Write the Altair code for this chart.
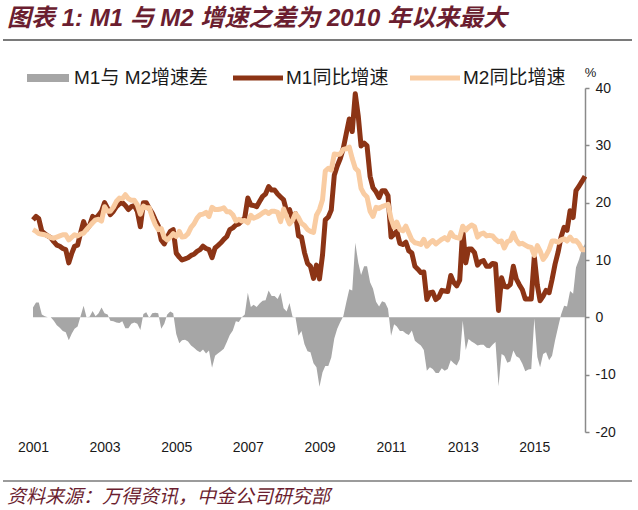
import altair as alt
import pandas as pd

# ---------------- data (monthly, Jan 2001 - Jun 2016, % YoY) ----------------
start_month = "2001-01-01"
m1_yoy = [
    17.0, 17.6, 17.2, 15.0, 14.6, 14.2, 13.9, 13.2, 12.6, 12.4, 12.0, 11.8,  # 2001
    9.5, 11.2, 12.4, 12.6, 14.7, 16.7, 15.3, 16.0, 17.6, 17.2, 17.8, 18.5,   # 2002
    20.0, 19.0, 17.9, 18.5, 19.3, 19.8, 20.0, 19.5, 18.8, 19.3, 19.5, 18.5,  # 2003
    15.8, 20.0, 20.0, 19.0, 18.2, 17.0, 16.0, 13.5, 12.8, 14.0, 15.0, 15.3,  # 2004
    11.2, 10.5, 10.0, 10.2, 10.4, 10.8, 11.0, 11.5, 11.8, 12.4, 12.0, 11.8,  # 2005
    10.4, 12.1, 12.5, 13.0, 13.6, 14.1, 15.3, 15.6, 16.1, 16.3, 16.8, 17.4,  # 2006
    20.8, 19.6, 19.5, 19.3, 20.2, 21.1, 21.5, 22.8, 22.2, 22.2, 21.5, 21.0,  # 2007
    20.5, 18.5, 18.8, 17.0, 18.1, 14.2, 14.0, 11.3, 9.4, 8.9, 6.8, 9.1,      # 2008
    6.7, 10.9, 17.0, 17.5, 18.7, 24.8, 26.4, 27.7, 29.5, 32.0, 34.6, 32.4,   # 2009
    39.0, 35.0, 29.9, 30.4, 29.9, 24.6, 22.6, 21.9, 20.9, 22.1, 22.1, 21.2,  # 2010
    14.0, 14.5, 15.0, 12.9, 12.7, 13.1, 11.6, 11.2, 8.9, 8.4, 7.8, 7.9,      # 2011
    3.1, 4.3, 4.4, 3.1, 3.5, 4.7, 4.6, 4.5, 7.3, 6.1, 5.5, 6.5,              # 2012
    15.3, 9.5, 11.9, 11.9, 11.3, 9.1, 9.7, 9.9, 8.9, 8.9, 9.4, 9.3,          # 2013
    1.2, 6.9, 5.4, 5.3, 5.7, 8.9, 6.7, 5.7, 4.8, 3.2, 3.2, 3.2,              # 2014
    10.6, 5.6, 2.9, 3.7, 4.7, 4.3, 6.6, 9.3, 11.4, 14.0, 15.7, 15.2,         # 2015
    18.6, 17.4, 22.1, 22.9, 23.7, 24.6,                                      # 2016
]
m2_yoy = [
    15.3, 15.0, 14.6, 14.5, 14.4, 14.2, 13.9, 13.8, 14.0, 14.2, 14.4, 14.4,  # 2001
    13.5, 14.0, 14.4, 14.2, 14.5, 14.7, 15.3, 15.9, 16.5, 17.0, 17.1, 16.8,  # 2002
    19.3, 18.5, 18.5, 19.2, 20.2, 20.8, 20.7, 21.4, 20.7, 20.4, 20.4, 19.6,  # 2003
    18.0, 19.4, 19.1, 19.1, 17.5, 16.2, 15.3, 15.5, 13.9, 13.5, 14.0, 14.6,  # 2004
    14.1, 15.0, 14.0, 14.1, 14.6, 15.7, 16.3, 17.3, 17.9, 18.0, 18.3, 17.6,  # 2005
    19.2, 18.8, 18.8, 18.9, 19.1, 18.4, 18.4, 17.9, 16.8, 17.1, 16.8, 16.9,  # 2006
    16.5, 17.8, 17.3, 17.5, 17.8, 18.2, 18.5, 18.1, 18.5, 18.5, 18.3, 16.7,  # 2007
    18.9, 17.5, 16.3, 16.9, 18.1, 17.4, 16.4, 16.0, 15.3, 15.0, 14.8, 17.8,  # 2008
    18.8, 20.5, 25.5, 26.0, 25.7, 28.5, 28.4, 28.5, 29.3, 29.4, 29.7, 27.7,  # 2009
    26.0, 25.5, 22.5, 21.5, 21.0, 18.5, 17.6, 19.2, 19.0, 19.3, 19.5, 19.7,  # 2010
    17.2, 15.7, 16.6, 15.3, 15.1, 15.9, 14.7, 13.5, 13.0, 12.9, 12.7, 13.6,  # 2011
    12.4, 13.0, 13.4, 12.8, 13.2, 13.6, 13.9, 13.5, 14.8, 14.1, 13.9, 13.8,  # 2012
    15.9, 15.2, 15.7, 16.1, 15.8, 14.0, 14.5, 14.7, 14.2, 14.3, 14.2, 13.6,  # 2013
    13.2, 13.3, 12.1, 13.2, 13.4, 14.7, 13.5, 12.8, 12.9, 12.6, 12.3, 12.2,  # 2014
    10.8, 12.5, 11.6, 10.1, 10.8, 11.8, 13.3, 13.3, 13.1, 13.5, 13.7, 13.3,  # 2015
    14.0, 13.3, 13.4, 12.8, 11.8, 11.8,                                      # 2016
]
axis_years = [2001, 2003, 2005, 2007, 2009, 2011, 2013, 2015]
y_ticks = [-20, -10, 0, 10, 20, 30, 40]

title_text = "图表 1: M1 与 M2 增速之差为 2010 年以来最大"
source_text = "资料来源：万得资讯，中金公司研究部"
gap_name = "M1与 M2增速差"
m1_name = "M1同比增速"
m2_name = "M2同比增速"

# ---------------- build table ----------------
months = pd.date_range(start_month, periods=len(m1_yoy), freq="MS")
df = pd.DataFrame({"date": months.strftime("%Y-%m-%d"), "m1": m1_yoy, "m2": m2_yoy})
df["gap"] = df["m1"] - df["m2"]

# ---------------- styling ----------------
W, H = 552, 344
C_M1 = "#8C3415"
C_M2 = "#F9CCA2"
C_GAP = "#A6A6A6"
C_TITLE = "#6B1E30"
FONT = "Liberation Sans, Noto Sans CJK SC, sans-serif"

x_enc = alt.X(
    "date:T",
    scale=alt.Scale(domain=[alt.DateTime(year=2001, month=1, date=1),
                            alt.DateTime(year=2016, month=6, date=1)]),
    axis=alt.Axis(
        values=[alt.DateTime(year=y, month=1, date=1) for y in axis_years],
        format="%Y", title=None, domain=False, ticks=False, tickSize=0,
        grid=False, labelPadding=8, labelFontSize=14, labelColor="#1a1a1a",
        labelFont=FONT, labelFlush=False,
    ),
)

y_axis = alt.Axis(
    orient="right", values=y_ticks, grid=False, title="%",
    labelExpr="'' + datum.value",
    titleAngle=0, titleX=5, titleY=-16, titleAlign="center",
    titleBaseline="middle", titleFontSize=13, titleFontWeight="normal",
    titleColor="#1a1a1a", titleFont=FONT,
    domainColor="#8a8a8a", domainWidth=1.5, tickColor="#8a8a8a",
    tickSize=4, tickWidth=1.5, labelPadding=6, labelFontSize=14,
    labelColor="#1a1a1a", labelFont=FONT,
)
y_scale = alt.Scale(domain=[-20, 40], nice=False, zero=False)

base = alt.Chart(df)

area = base.mark_area(color=C_GAP, opacity=1).encode(
    x=x_enc,
    y=alt.Y("gap:Q", scale=y_scale, axis=y_axis),
)
zero_line = base.mark_rule(color="#8a8a8a", strokeWidth=1.5).encode(
    y=alt.Y("zero:Q", scale=y_scale, axis=y_axis),
).transform_calculate(zero="0").transform_filter("datum.date == '2001-01-01'")

m1_line = base.mark_line(color=C_M1, strokeWidth=5, strokeJoin="round").encode(
    x=x_enc,
    y=alt.Y("m1:Q", scale=y_scale, axis=y_axis),
)
m2_line = base.mark_line(color=C_M2, strokeWidth=5, strokeJoin="round").encode(
    x=x_enc,
    y=alt.Y("m2:Q", scale=y_scale, axis=y_axis),
)

# ---------------- legend, title, source (decorations) ----------------
one = pd.DataFrame({"gap": [gap_name], "m1": [m1_name], "m2": [m2_name],
                    "title": [title_text], "source": [source_text]})
deco = alt.Chart(one)
OX, OY = 33, 88  # plot origin in page pixels
LY = 78  # legend centre line
LFS = 19

leg_gap_sym = deco.mark_rect(color=C_GAP).encode(
    x=alt.value(27 - OX), x2=alt.value(69 - OX),
    y=alt.value(LY - 4 - OY), y2=alt.value(LY + 4 - OY))
leg_gap_txt = deco.mark_text(align="left", baseline="middle", fontSize=LFS,
                             font=FONT, color="#1a1a1a").encode(
    x=alt.value(74 - OX), y=alt.value(LY - OY), text="gap:N")
leg_m1_sym = deco.mark_rule(color=C_M1, strokeWidth=5).encode(
    x=alt.value(233 - OX), x2=alt.value(283 - OX), y=alt.value(LY - OY))
leg_m1_txt = deco.mark_text(align="left", baseline="middle", fontSize=LFS,
                            font=FONT, color="#1a1a1a").encode(
    x=alt.value(286 - OX), y=alt.value(LY - OY), text="m1:N")
leg_m2_sym = deco.mark_rule(color=C_M2, strokeWidth=5).encode(
    x=alt.value(410 - OX), x2=alt.value(460 - OX), y=alt.value(LY - OY))
leg_m2_txt = deco.mark_text(align="left", baseline="middle", fontSize=LFS,
                            font=FONT, color="#1a1a1a").encode(
    x=alt.value(463 - OX), y=alt.value(LY - OY), text="m2:N")

title_mark = deco.mark_text(align="left", baseline="middle", fontSize=24,
                            font=FONT, fontStyle="italic", fontWeight="bold",
                            color=C_TITLE).encode(
    x=alt.value(7 - OX), y=alt.value(19 - OY), text="title:N")
title_rule = deco.mark_rule(color="#7a7a7a", strokeWidth=2).encode(
    x=alt.value(3 - OX), x2=alt.value(632 - OX), y=alt.value(40 - OY))
source_rule = deco.mark_rule(color="#7a7a7a", strokeWidth=1.5).encode(
    x=alt.value(3 - OX), x2=alt.value(632 - OX), y=alt.value(481 - OY))
source_mark = deco.mark_text(align="left", baseline="middle", fontSize=19,
                             font=FONT, fontStyle="italic",
                             color=C_TITLE).encode(
    x=alt.value(7 - OX), y=alt.value(497 - OY), text="source:N")

chart = alt.layer(
    area, zero_line, m1_line, m2_line,
    leg_gap_sym, leg_gap_txt, leg_m1_sym, leg_m1_txt, leg_m2_sym, leg_m2_txt,
    title_mark, title_rule, source_rule, source_mark,
).properties(
    width=W, height=H,
    autosize=alt.AutoSizeParams(type="none"),
    padding={"left": OX, "top": OY, "right": 638 - OX - W, "bottom": 510 - OY - H},
    background="white",
).configure_view(stroke=None)

chart.save("out.html", embed_options={"renderer": "svg", "actions": False})
